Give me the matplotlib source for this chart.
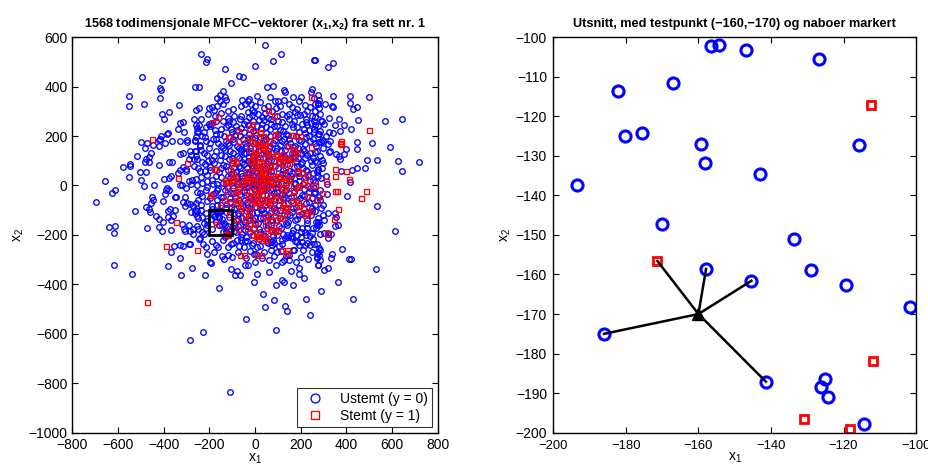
import numpy as np
import matplotlib
matplotlib.use("Agg")
import matplotlib.pyplot as plt
from matplotlib.patches import Rectangle

plt.rcParams['font.family'] = ['Liberation Sans', 'DejaVu Sans']
plt.rcParams['mathtext.fontset'] = 'custom'
plt.rcParams['mathtext.rm'] = 'Liberation Sans'
plt.rcParams['mathtext.it'] = 'Liberation Sans'
plt.rcParams['mathtext.bf'] = 'Liberation Sans:bold'

# ---------------- data ----------------
blue_outer = [
(-496,440),(-406,426),(-418,393),(-410,386),(-553,364),(-415,353),(-552,321),(-485,331),(-333,324),
(-405,291),(-376,298),(-400,268),(-266,270),(-327,254),(-317,258),(-257,306),(-310,218),(-335,229),
(-381,213),(-387,208),(-410,201),(-415,190),(-422,183),(-500,175),(-471,172),(-447,162),(-420,158),
(-392,171),(-364,181),(-330,178),(-299,183),(-298,175),(-262,178),(-256,215),(-257,196),(-284,140),
(-315,131),(-330,127),(-264,140),(-280,124),(-268,108),(-256,107),(-287,108),(-454,131),(-483,153),
(-462,114),(-477,107),(-465,95),(-518,121),(-576,75),(-548,87),(-547,78),(-420,82),(-376,97),(-364,97),
(-480,95),(-477,56),(-505,53),(-553,35),(-497,22),(-487,-3),(-658,20),(-628,-32),(-611,-18),(-698,-65),
(-525,-102),(-452,-47),(-447,-60),(-456,-72),(-443,2),(-398,25),(-375,32),(-366,37),(-387,-10),(-375,-18),
(-389,-18),(-352,-47),(-346,-47),(-396,-33),(-404,-63),(-379,-103),(-372,-97),(-327,2),(-304,-10),(-321,2),
(-301,58),(-313,75),(-301,67),(-289,17),(-278,5),(-274,22),(-327,63),(-339,52),(-308,-47),(-314,-65),
(-298,-72),(-305,-84),(-284,-76),(-271,-81),(-263,-100),(-278,-107),(-261,-113),(-254,-124),(-352,-100),
(-358,-122),(-477,-88),(-465,-96),(-461,-109),(-432,-123),(-420,-136),(-401,-146),(-379,-129),(-366,-140),
(-320,-155),(-311,-176),(-289,-161),(-286,-183),(-271,-176),(-252,-165),(-640,-168),(-611,-165),(-617,-192),
(-474,-173),(-422,-167),(-407,-183),
(-619,-323),(-539,-358),(-353,-245),(-366,-270),(-328,-240),(-315,-245),(-289,-236),(-283,-237),(-327,-295),
(-380,-325),(-323,-362),(-274,-332),(-285,-625),(-270,-197),(-243,-216),(-305,-183),(-368,-182),
(-108,-835),(-228,-591),(92,-584),(-40,-539),(242,-523),(131,-489),(140,-508),(42,-490),(82,-463),(222,-458),
(35,-439),(-159,-416),(-6,-392),(90,-404),(117,-384),(128,-392),(165,-401),(-219,-362),(-86,-363),(-66,-362),
(-79,-346),(9,-358),(60,-350),(156,-347),(194,-333),(216,-373),(194,-357),(-104,-337),(-195,-310),(-194,-315),
(-212,-276),(-213,-248),(-241,-212),(-170,-241),(-145,-284),(-136,-296),(-107,-238),(-44,-322),(-3,-279),
(4,-276),(33,-292),(70,-261),(98,-269),(112,-266),(120,-309),(128,-303),(137,-287),(150,-303),(180,-309),
(166,-262),(209,-262),(234,-296),(270,-291),(276,-320),(58,-231),(76,-240),(83,-231),(-61,-222),(-44,-225),
(-12,-240),(18,-217),(44,-216),(79,-220),(120,-236),(161,-214),(186,-229),(205,-229),(219,-240),(241,-240),
(258,-238),(273,-272),(283,-260),(241,-205),(222,-202),(158,-203),(146,-210),(-168,-186),
(614,-186),(285,-198),(321,-197),(331,-197),(321,-214),(270,-236),(282,-253),(277,-269),(282,-280),(270,-293),
(285,-303),(274,-321),(302,-341),(321,-333),(336,-278),(331,-293),(380,-258),(410,-297),(421,-297),(362,-391),
(287,-427),(431,-458),(530,-338),
(264,508),(321,479),(340,497),(276,366),(343,362),(418,361),(498,358),(263,331),(275,335),(282,314),(307,329),
(336,322),(340,317),(418,334),(431,311),(445,316),(569,260),(645,271),(295,262),(302,249),(324,273),(350,245),
(369,270),(388,245),(420,227),(453,263),(263,245),(283,220),(277,208),(324,216),(341,213),(373,221),(263,170),
(279,174),(292,183),(296,181),(318,169),(328,178),(449,174),(514,170),(593,155),(324,137),(328,141),(357,126),
(368,119),(390,129),(398,147),(446,147),(263,101),(277,62),(371,107),(491,104),(533,102),(626,98),(717,96),
(643,57),(375,58),(424,63),(445,72),(481,69),(418,16),(263,-27),(317,8),(314,-35),(405,-42),(534,-81),(263,-104),
(298,-78),(321,-110),(350,-110),(274,-146),(303,-139),(353,-129),(362,-161),(350,-163),(267,-171),(303,-192),
(321,-192),
(45,567),(115,533),(1,482),(77,502),(258,509),(-237,531),(-210,511),(-216,499),(-130,472),(-104,414),(-70,441),
(-52,437),(54,400),(80,404),(-244,397),(-262,397),(127,387),(133,380),(168,356),(201,360),(248,389),(245,377),
(-142,384),(-151,367),(-133,357),(-127,344),(-167,353),(-155,340),(-189,318),(-202,315),(-245,313),(10,364),
(-28,349),(-44,330),(-18,329),(67,360),(87,341),(99,340),(219,326),(258,353),(276,330),(-66,270),(-31,299),
(-28,279),(-5,296),(14,290),(29,276),(41,265),(58,275),(117,290),(139,282),(150,291),(174,299),(184,287),
(213,291),(249,280),(260,259),(225,268),(247,252),(238,224),(217,212),(-260,245),(-245,243),(-216,235),
(-191,248),(-117,243),(-101,217),(-113,259),(-79,225),
]

blue_core = [
(-250,220),(-230,200),(-215,180),(-240,160),(-260,140),(-225,130),(-200,150),(-185,190),(-170,210),(-150,230),
(-135,200),(-160,170),(-140,150),(-120,170),(-110,140),(-95,190),(-80,160),(-100,110),(-130,120),(-155,105),
(-180,120),(-205,100),(-230,95),(-250,70),(-220,60),(-195,75),(-170,40),(-150,70),(-125,80),(-105,45),(-90,75),
(-70,110),(-60,140),(-45,170),(-30,190),(-65,200),(-85,240),(-50,250),(-20,230),(-10,260),(10,240),(30,250),
(50,235),(70,250),(95,240),(110,225),(130,240),(160,250),(185,235),(205,250),(230,245),(260,230),(280,210),
(255,190),(225,195),(200,180),(180,200),(150,190),(120,180),(100,195),(80,170),(60,150),(40,185),(20,195),
(0,170),(-20,150),(-40,130),(-55,95),(-30,100),(-10,120),(15,140),(35,110),(55,100),(75,130),(95,150),(115,140),
(140,160),(165,155),(190,150),(215,140),(240,130),(265,135),(285,120),(270,95),(245,100),(220,110),(200,85),
(175,120),(155,110),(130,115),(110,90),(85,100),(65,75),(45,70),(25,60),(5,80),(-15,60),(-35,70),(-60,50),
(-80,30),(-100,15),(-120,40),(-140,10),(-160,-10),(-185,5),(-210,20),(-235,35),(-255,0),(-240,-30),(-215,-20),
(-195,-50),(-175,-30),(-150,-45),(-130,-20),(-110,-50),(-95,-10),(-75,5),(-55,20),(-40,-5),(-25,30),(-5,40),
(15,15),(30,35),(50,50),(70,20),(90,10),(110,35),(130,50),(150,60),(170,75),(190,55),(210,70),(230,60),(255,50),
(275,65),(290,30),(265,15),(240,20),(220,35),(195,20),(175,5),(155,25),(135,0),(115,-15),(95,-25),(75,-10),
(55,-5),(35,-20),(15,-40),(-5,-15),(-20,-50),(-45,-60),(-65,-35),(-85,-70),(-105,-90),(-125,-75),(-145,-98),
(-165,-80),(-190,-95),(-215,-110),(-235,-80),(-250,-130),(-225,-150),(-85,-140),(-75,-110),(-55,-130),(-35,-90),
(-15,-110),(5,-85),(25,-100),(45,-80),(65,-110),(85,-90),(105,-60),(125,-45),(145,-70),(165,-90),(185,-60),
(205,-40),(225,-70),(250,-90),(270,-60),(285,-20),(260,-30),(240,-10),(215,-15),(195,-120),(175,-140),
(155,-120),(135,-150),(115,-170),(95,-140),(75,-180),(55,-160),(35,-130),(15,-150),(-5,-170),(-25,-140),
(-45,-180),(-65,-160),(-85,-190),(-80,-220),(-60,-210),(-35,-225),(-10,-200),(20,-190),(45,-205),(70,-230),
(95,-200),(120,-220),(140,-200),(165,-180),(185,-200),(205,-170),(230,-150),(255,-170),(275,-130),(245,-120),
(220,-190),(195,-240),(170,-260),(10,-250),(-20,-265),(-50,-250),(-120,-250),(-140,-220),(-100,-290),(60,-300),
(90,-320),(0,-310),(-30,-320),(0,0),(20,-20),(-10,10),(40,5),(60,25),(-30,15),(10,50),(30,80),(-20,90),(50,130),
(80,40),(100,70),(-50,130),(-70,80),(120,110),(70,-40),(30,-60),(-15,-75),(0,-130),(40,-110),(-40,-40),(85,-60),
(110,-100),(140,-120),(-90,-30),(160,130),(180,100),(200,130),(25,160),(-25,210),(65,200),(100,260),(135,210),
(-110,195),(-140,260),(-175,280),(-200,250),(-165,320),(-120,300),(-90,280),(-60,320),(-30,340),(0,320),
(40,315),(75,300),(110,320),(150,330),(185,310),(230,300),(265,300),(290,260),(150,-30),(180,-10),(250,-50),
(230,-110),(-250,-60),(-230,-190),(-215,-170),(-90,-160),(290,-90),(280,-160),(300,-120),(310,40),(300,90),
(300,150),(310,200),
]

blue_core_2 = [
(-180,305),(-140,330),(-95,310),(-55,345),(-15,305),(20,338),(55,322),(90,312),(125,345),(160,318),(195,340),
(240,318),(280,345),
(-235,270),(-205,288),(-170,262),(-150,295),(-118,272),(-95,258),(-60,282),(-40,262),(-12,285),(18,265),(44,292),
(72,268),(95,283),(118,258),(148,270),(172,262),(198,285),(222,255),(262,278),(285,290),
(-255,232),(-225,215),(-198,240),(-175,225),(-155,208),(-128,238),(-105,228),(-88,205),(-62,232),(-48,215),
(-32,245),(-8,222),(6,205),(28,232),(48,212),(66,228),(84,240),(102,210),(124,222),(146,205),(168,238),(192,215),
(214,228),(238,202),(258,215),(278,240),
(-262,185),(-240,165),(-218,195),(-195,172),(-172,190),(-150,158),(-128,182),(-112,162),(-92,175),(-70,150),
(-52,188),(-38,160),(-22,178),(-2,192),(12,160),(32,172),(50,190),(68,158),(88,184),(108,165),(128,190),(152,172),
(175,160),(195,185),(218,168),(242,180),(268,158),(288,175),
(-258,118),(-236,142),(-212,125),(-190,105),(-170,138),(-148,122),(-132,145),(-115,108),(-96,130),(-78,118),
(-62,148),(-46,108),(-28,135),(-12,102),(4,128),(22,112),(38,145),(56,118),(72,102),(92,138),(112,120),(132,142),
(150,105),(170,132),(190,112),(210,148),(230,125),(252,112),(272,140),(292,105),
(-265,80),(-242,58),(-220,88),(-198,62),(-178,92),(-158,55),(-138,82),(-118,62),(-102,92),(-84,55),(-66,72),
(-48,88),(-32,52),(-14,78),(2,60),(18,95),(36,62),(52,85),(70,58),(88,78),(104,95),(122,62),(142,85),(162,52),
(182,78),(204,96),(224,64),(248,82),(270,55),(292,72),
(-258,28),(-232,10),(-212,42),(-190,22),(-168,5),(-148,35),(-128,12),(-110,30),(-92,45),(-74,18),(-58,38),
(-42,8),(-28,48),(-12,25),(4,12),(20,40),(36,22),(52,8),(68,44),(84,28),(102,6),(118,48),(138,22),(156,40),
(174,12),(192,38),(212,5),(232,42),(254,22),(276,38),
(-255,-25),(-230,-42),(-208,-8),(-185,-35),(-165,-18),(-142,-48),(-122,-5),(-104,-30),(-86,-45),(-68,-12),
(-50,-28),(-32,-8),(-18,-45),(0,-22),(18,-5),(32,-38),(48,-15),(64,-48),(82,-30),(100,-8),(118,-40),(136,-18),
(156,-45),(172,-25),(194,-8),(214,-42),(236,-28),(258,-12),(280,-45),
(-258,-72),(-236,-98),(-212,-62),(-190,-82),(-168,-58),(-148,-78),(-128,-92),(-108,-65),(-90,-95),(-72,-58),
(-54,-85),(-36,-68),(-20,-92),(-2,-55),(16,-72),(34,-95),(50,-62),(68,-78),(86,-98),(104,-80),(122,-56),
(140,-92),(158,-64),(178,-85),(196,-52),(216,-95),(236,-65),(262,-78),(284,-58),
(-255,-105),(-232,-128),(-210,-145),(-92,-112),(-76,-135),(-60,-102),(-42,-148),(-26,-118),(-8,-138),(8,-108),
(24,-130),(42,-145),(58,-118),(76,-140),(92,-108),(110,-132),(128,-118),(146,-146),(164,-108),(184,-135),
(204,-115),(226,-140),(248,-105),(268,-148),
(-248,-175),(-222,-195),(-212,-158),(-92,-185),(-76,-162),(-58,-195),(-38,-162),(-22,-188),(-2,-155),(16,-178),
(34,-195),(52,-170),(70,-158),(88,-185),(106,-165),(124,-195),(142,-160),(162,-192),(182,-168),(202,-190),
(226,-172),(250,-192),(272,-160),
(-228,-238),(-188,-225),(-162,-248),(-132,-210),(-98,-232),(-68,-245),(-40,-208),(-8,-232),(22,-245),(52,-228),
(78,-205),(104,-245),(132,-212),(176,-225),(200,-208),(228,-232),(256,-218),
(-180,-270),(-120,-282),(-75,-268),(-40,-292),(40,-270),(85,-285),(150,-280),(200,-290),(250,-268),
]

blue_window = [
(-156.4,-102.3),(-154.2,-102.0),(-146.9,-103.2),(-126.8,-105.4),(-182.2,-113.7),(-167.1,-111.6),
(-180.3,-125.0),(-175.5,-124.2),(-159.4,-126.9),(-158.2,-131.7),(-143.0,-134.5),(-115.7,-127.3),
(-193.6,-137.4),(-170.0,-147.2),(-133.7,-151.0),(-157.9,-158.6),(-145.4,-161.6),(-129.1,-158.9),
(-119.4,-162.6),(-101.8,-168.1),(-186.0,-175.0),(-141.4,-187.1),(-125.2,-186.4),(-126.2,-188.4),
(-124.2,-190.9),(-114.3,-197.8),
]

red_outer = [
(-452,189),(-298,90),(-335,32),(-345,-149),(-388,-244),(-473,-470),(247,357),(-162,279),(-189,256),(83,280),
(-256,-262),(-46,-283),(25,-280),(142,-262),(6,-203),(32,-206),(47,-219),(35,-222),(86,-186),(102,-182),
(315,-194),(499,224),(375,179),(371,170),(376,169),(351,68),(398,58),(352,38),(411,27),(312,19),(263,0),
(292,-32),(352,-24),(360,-24),(486,-22),(464,-50),(364,-97),(344,-136),(315,-192),
]

red_core = [
(57,306),(-12,248),(-76,220),(-24,198),(-116,195),(-76,181),(0,216),(23,214),(36,202),(60,181),(87,205),
(163,205),(198,200),(244,156),(172,148),(17,164),(42,164),(-6,128),(13,127),(51,127),(92,129),(124,129),
(139,103),(149,93),(102,100),(64,86),(-6,108),(-18,100),(-85,97),(-102,93),(-108,63),(-130,16),(-172,65),
(-86,35),(-44,19),(19,77),(41,55),(9,57),(52,27),(86,31),(111,16),(127,42),(144,32),(213,14),(204,50),
(182,-5),(230,-43),(191,-78),(165,-44),(128,-24),(96,-38),(70,-42),(38,-55),(19,-24),(-15,-4),(-41,-19),
(-75,-15),(-121,-21),(-89,-38),(-79,-65),(-64,-78),(-44,-98),(-24,-105),(-3,-65),(19,-78),(51,-65),(70,-85),
(87,-105),(105,-129),(133,-94),(122,-71),(188,-105),(219,-118),(52,-140),(81,-166),(45,-161),(-25,-152),
(-44,-135),(-73,-176),(-85,-140),(-137,-60),(-193,-39),(-152,-85),(0,-30),(20,10),(30,-10),(-20,40),
(40,30),(10,-60),(60,0),(-30,-40),(80,60),(25,90),(-10,70),(50,-20),(100,40),(70,120),(-40,60),(130,70),
(-60,10),(15,-35),(35,45),(-5,20),
]

red_core_2 = [
(-25,234),(22,215),(88,207),(165,205),(-114,198),(-36,178),(-14,178),(0,171),(37,178),(61,182),(144,158),
(168,144),(182,137),(15,167),(29,157),(40,150),(58,143),(-26,143),(0,136),(44,117),(95,124),(110,110),
(131,110),(160,110),(-22,103),(-7,117),(-7,77),(-95,103),(-178,68),(19,97),(37,83),(22,56),(52,63),(66,77),
(102,90),(117,97),(168,110),(182,63),(226,43),(150,26),(182,49),(-50,30),(-22,30),(7,30),(29,30),(51,30),
(80,30),(110,30),(-95,47),(-102,27),
(-124,16),(-95,27),(-197,-38),(-58,9),(-37,23),(-15,-4),(7,16),(22,-11),(44,23),(51,3),(73,16),(88,-4),
(117,-11),(131,16),(146,3),(168,-18),(190,-4),(226,3),(263,3),
(-29,-51),(-7,-44),(7,-65),(-22,-78),(22,-78),(51,-58),(66,-71),(88,-51),(110,-58),(117,-85),(139,-85),
(160,-65),(190,-65),(212,-85),(226,-112),(241,-105),(270,-58),
(-66,-92),(-44,-118),(-22,-132),(0,-146),(44,-125),(66,-125),(88,-139),(117,-132),(139,-105),
(-37,-172),(-7,-172),(7,-192),(22,-205),(15,-212),(-15,-199),(66,-179),(51,-192),
(-66,-280),(7,-280),(117,-260),(139,-273),(-80,-24),(-73,-58),(-131,23),(-95,3),(-110,-71),
]

red_window = [(-171.3,-156.6),(-112.4,-117.2),(-112.0,-181.9),(-130.8,-196.5),(-118.1,-199.0)]

test_point = (-160, -170)
neighbours = [(-171.3,-156.6),(-157.9,-158.6),(-145.4,-161.6),(-186.0,-175.0),(-141.4,-187.1)]
window = (-200, -200, 100, 100)  # x0, y0, width, height


def split(pts):
    a = np.array(pts, dtype=float)
    return a[:, 0], a[:, 1]


def outside_window(pts):
    x0, y0, w, h = window
    return [(x, y) for x, y in pts if not (x0 - 3 < x < x0 + w + 3 and y0 - 3 < y < y0 + h + 3)]


blue_x, blue_y = split(outside_window(blue_outer + blue_core + blue_core_2) + blue_window)
red_x, red_y = split(outside_window(red_outer + red_core + red_core_2) + red_window)

BLUE = '#0000ff'
RED = '#ff0000'

fig = plt.figure(figsize=(9.29, 4.66), dpi=100)
ax1 = fig.add_axes([0.0778, 0.0715, 0.3933, 0.8487])
ax2 = fig.add_axes([0.5956, 0.0715, 0.3905, 0.8487])

for ax in (ax1, ax2):
    ax.tick_params(direction='in', top=True, right=True, labelsize=10, length=4, width=0.8)
    for s in ax.spines.values():
        s.set_linewidth(1.0)

# left panel
ax1.plot(blue_x, blue_y, 'o', ls='none', mfc='none', mec=BLUE, ms=4.0, mew=0.95, label='Ustemt (y = 0)')
ax1.plot(red_x, red_y, 's', ls='none', mfc='none', mec=RED, ms=3.6, mew=0.95, label='Stemt (y = 1)')
ax1.add_patch(Rectangle((window[0], window[1]), window[2], window[3], fill=False, ec='black', lw=2, zorder=5))
ax1.set_xlim(-800, 800)
ax1.set_ylim(-1000, 600)
ax1.set_xticks(np.arange(-800, 801, 200))
ax1.set_yticks(np.arange(-1000, 601, 200))
ax1.set_title(r'1568 todimensjonale MFCC−vektorer ($\mathbf{x_1}$,$\mathbf{x_2}$) fra sett nr. 1',
              fontsize=9.2, fontweight='bold', pad=7)
ax1.set_xlabel(r'$\mathregular{x_1}$', fontsize=10, labelpad=0)
ax1.set_ylabel(r'$\mathregular{x_2}$', fontsize=10, labelpad=2)
leg = ax1.legend(loc='lower right', fontsize=10, frameon=True, fancybox=False, edgecolor='black',
                 borderpad=0.3, handletextpad=0.8, labelspacing=0.2, borderaxespad=0.4, markerscale=1.6)
leg.get_frame().set_linewidth(0.8)

# right panel
ax2.plot(blue_x, blue_y, 'o', ls='none', mfc='none', mec=BLUE, ms=8, mew=2.2)
ax2.plot(red_x, red_y, 's', ls='none', mfc='none', mec=RED, ms=6, mew=2.0)
for nx, ny in neighbours:
    ax2.plot([test_point[0], nx], [test_point[1], ny], '-', color='black', lw=1.8)
ax2.plot([test_point[0]], [test_point[1]], '^', color='black', ms=9)
ax2.set_xlim(window[0], window[0] + window[2])
ax2.set_ylim(window[1], window[1] + window[3])
ax2.set_xticks(np.arange(-200, -99, 20))
ax2.set_yticks(np.arange(-200, -99, 10))
ax2.set_title('Utsnitt, med testpunkt (−160,−170) og naboer markert', fontsize=9.2, fontweight='bold', pad=7)
ax2.set_xlabel(r'$\mathregular{x_1}$', fontsize=10, labelpad=-1)
ax2.set_ylabel(r'$\mathregular{x_2}$', fontsize=10, labelpad=2)
ax2.tick_params(axis='x', labelsize=9.4, pad=5)
ax2.tick_params(axis='y', pad=4.5)

fig.savefig('out.png', dpi=100)
